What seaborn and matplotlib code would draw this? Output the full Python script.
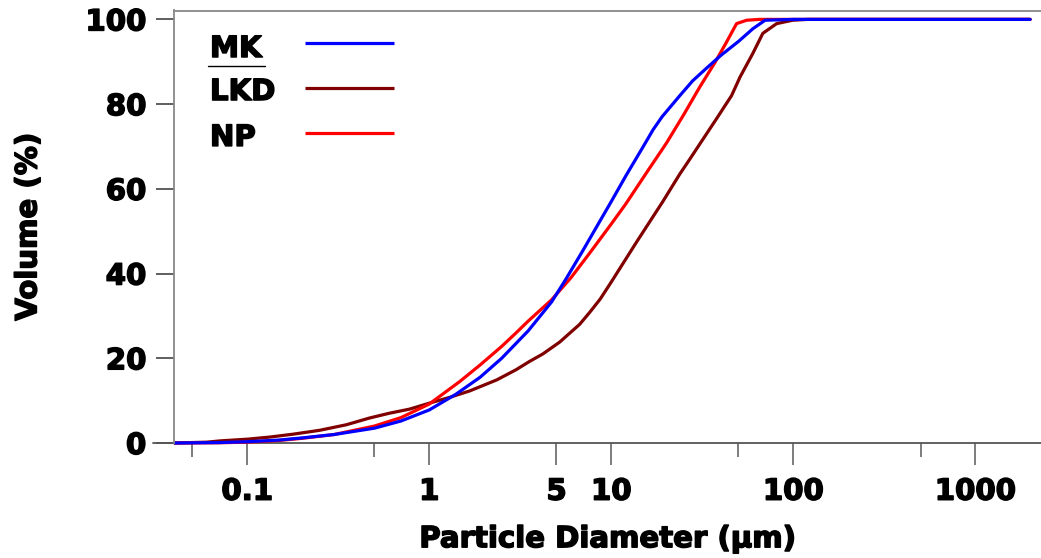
import numpy as np
import pandas as pd
import matplotlib
matplotlib.use("Agg")
import matplotlib.pyplot as plt
import matplotlib.patheffects as pe
import seaborn as sns
from matplotlib.ticker import FixedLocator, FixedFormatter, NullFormatter

# ---- data ----
series_names = ["MK", "LKD", "NP"]
colors = {"MK": "#0000ff", "LKD": "#800000", "NP": "#ff0000"}

mk_d = [0.04, 0.07, 0.1, 0.15, 0.2, 0.3, 0.5, 0.7, 1.0, 1.4, 1.9, 2.5, 3.5, 4.7, 5.6,
        7.0, 8.3, 10, 12, 14.9, 17, 19, 23.8, 28, 33.4, 40, 50, 60, 70, 100, 2000]
mk_v = [0, 0.1, 0.3, 0.7, 1.2, 2.0, 3.5, 5.2, 7.8, 11.5, 15.5, 20, 26.5, 33.3, 38.5,
        45.5, 51, 57, 63, 69.8, 74, 77, 82, 85.5, 88.5, 91.5, 94.8, 97.8, 99.8, 100, 100]

lkd_d = [0.04, 0.06, 0.071, 0.1, 0.133, 0.18, 0.25, 0.35, 0.47, 0.6, 0.78, 1.0, 1.3,
         1.67, 2.35, 3.0, 3.57, 4.2, 5.2, 6.7, 7.6, 8.7, 10, 13.8, 19.2, 23.8, 27, 37.8,
         45.8, 51, 60, 68, 81, 99, 120, 2000]
lkd_v = [0, 0.2, 0.5, 0.9, 1.4, 2.1, 3.0, 4.3, 5.9, 7.0, 8.0, 9.4, 10.8,
         12.3, 14.9, 17.3, 19.3, 21, 23.8, 28, 30.8, 34, 38, 47.5, 57, 63.5, 67, 76.5,
         82, 86.4, 92, 96.7, 99, 99.8, 100, 100]

np_d = [0.04, 0.07, 0.1, 0.15, 0.2, 0.3, 0.5, 0.7, 1.0, 1.47, 1.9, 2.5, 3.0, 3.5,
        4.7, 6.0, 7.6, 10, 12, 15.9, 20.1, 25, 30.6, 37.1, 42.8, 48.8, 55.4, 65, 2000]
np_v = [0, 0.05, 0.2, 0.6, 1.1, 2.0, 4.0, 6.0, 9.2, 14.5, 18.4, 22.8, 26, 28.8,
        33.8, 39, 44.8, 51.7, 56.4, 64.3, 70.8, 77.5, 84, 89.8, 94.5, 99, 99.8, 100, 100]

x_major = [0.1, 1, 5, 10, 100, 1000]
x_major_labels = ["0.1", "1", "5", "10", "100", "1000"]
x_minor = [0.05, 0.5, 50, 500]
y_ticks = [0, 20, 40, 60, 80, 100]

df = pd.concat([
    pd.DataFrame({"d": lkd_d, "v": lkd_v, "sample": "LKD"}),
    pd.DataFrame({"d": np_d, "v": np_v, "sample": "NP"}),
    pd.DataFrame({"d": mk_d, "v": mk_v, "sample": "MK"}),
], ignore_index=True)

sns.set_style("white")
plt.rcParams["font.family"] = ["DejaVu Sans"]
plt.rcParams["font.weight"] = "bold"
plt.rcParams["text.color"] = "black"
plt.rcParams["axes.labelcolor"] = "black"
plt.rcParams["xtick.labelcolor"] = "black"
plt.rcParams["ytick.labelcolor"] = "black"

heavy = [pe.withStroke(linewidth=1.1, foreground="black")]

fig = plt.figure(figsize=(10.41, 5.58), dpi=100)
ax = fig.add_axes([174 / 1041, 1 - 443 / 558, 867 / 1041, 432.5 / 558])

sns.lineplot(data=df, x="d", y="v", hue="sample", hue_order=["LKD", "NP", "MK"],
             palette=colors, estimator=None, sort=False, linewidth=2.3,
             legend=False, ax=ax)
for ln in ax.get_lines():
    ln.set_clip_on(False)

ax.set_xscale("log")
ax.set_xlim(0.0396, 2296)
ax.set_ylim(0, 102.1)

ax.xaxis.set_major_locator(FixedLocator(x_major))
ax.xaxis.set_major_formatter(FixedFormatter(x_major_labels))
ax.xaxis.set_minor_locator(FixedLocator(x_minor))
ax.xaxis.set_minor_formatter(NullFormatter())
ax.set_yticks(y_ticks)
ax.set_yticklabels([str(t) for t in y_ticks])

tick_col = "#666666"
ax.tick_params(axis="x", which="major", direction="out", length=16, width=1.2,
               color=tick_col, pad=9, labelsize=21, labelcolor="black")
ax.tick_params(axis="x", which="minor", direction="out", length=10, width=1.2,
               color=tick_col)
ax.tick_params(axis="y", which="major", direction="out", length=13, width=1.2,
               color="#444444", pad=7, labelsize=21, labelcolor="black")
ax.tick_params(bottom=True, left=True, which="both")
for lab in ax.get_xticklabels() + ax.get_yticklabels():
    lab.set_fontweight("bold")
    lab.set_path_effects(heavy)

for side in ["left", "top"]:
    ax.spines[side].set_color("#888888")
    ax.spines[side].set_linewidth(1.3)
ax.spines["right"].set_visible(False)
ax.spines["bottom"].set_visible(False)
ax.plot([-0.024, 1.0], [0, 0], transform=ax.transAxes, color="#555555",
        lw=1.3, clip_on=False, zorder=1)

ax.set_xlabel("Particle Diameter (µm)", fontsize=21, fontweight="bold", labelpad=14,
              color="black", path_effects=heavy)
ax.set_ylabel("Volume (%)", fontsize=21, fontweight="bold", labelpad=31,
              color="black", path_effects=heavy)

# legend (labels left, line samples right)
text_y = {"MK": 0.8925, "LKD": 0.793, "NP": 0.687}
line_y = {"MK": 0.925, "LKD": 0.821, "NP": 0.717}
for name in series_names:
    ax.text(0.0415, text_y[name], name, transform=ax.transAxes, fontsize=21,
            fontweight="bold", ha="left", va="baseline", color="black",
            path_effects=heavy)
    ax.plot([0.151, 0.254], [line_y[name]] * 2, transform=ax.transAxes,
            color=colors[name], lw=2.3, solid_capstyle="butt")
ax.plot([0.039, 0.105], [0.872, 0.872], transform=ax.transAxes, color="black", lw=1)

fig.savefig("out.png", dpi=100)
